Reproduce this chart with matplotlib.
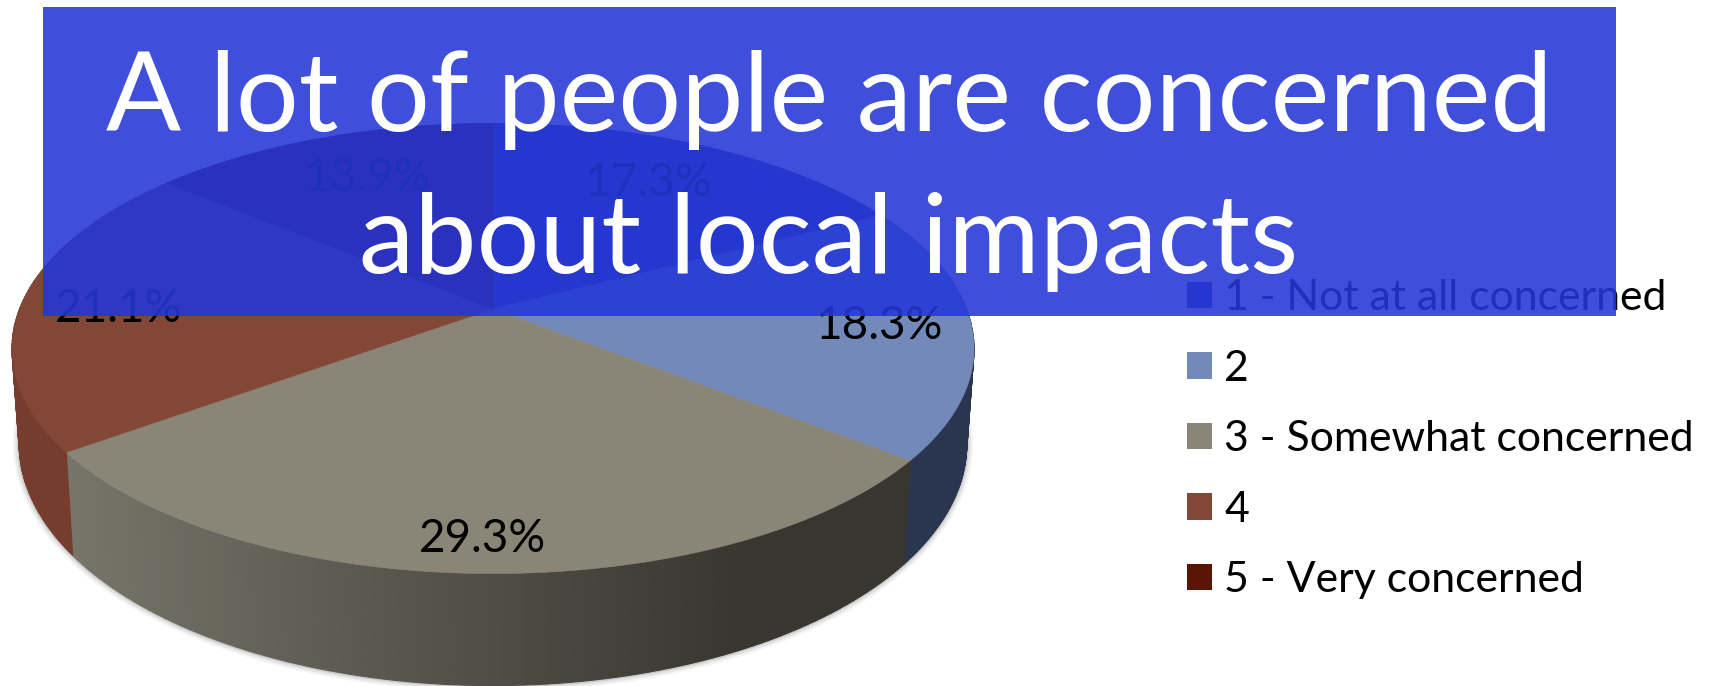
import numpy as np
import matplotlib
matplotlib.use("Agg")
import matplotlib.pyplot as plt
from matplotlib.colors import to_rgb
from matplotlib.patches import Rectangle

# Survey results
categories = ["1 - Not at all concerned", "2", "3 - Somewhat concerned", "4", "5 - Very concerned"]
shares = [17.3, 18.3, 29.3, 21.1, 13.9]
slice_labels = ["17.3%", "18.3%", "29.3%", "21.1%", "13.9%"]
title_lines = ["A lot of people are concerned", "about local impacts"]

# Styling
top_colors = ["#2f3f8c", "#7289b9", "#8b8578", "#834737", "#5a1505"]
wall_left = ["#2c3a6a", "#2a3650", "#77746a", "#763c2e", "#4a1004"]
wall_right = ["#2c3a6a", "#2a3650", "#38362e", "#763c2e", "#4a1004"]
legend_colors = ["#2f3f8c", "#7289b9", "#8b8578", "#834737", "#5a1505"]
FONT = "Lato"

W, H = 1710, 686
fig = plt.figure(figsize=(W / 100, H / 100), dpi=100)
ax = fig.add_axes([0, 0, 1, 1])
ax.set_xlim(0, W)
ax.set_ylim(H, 0)
ax.axis("off")

# Perspective projection of the pie disc onto the page
CX, CY = 493.0, 309.0
A, B, P = 473.5, 218.0, 0.176
DEPTH, TAPER = 92.3, 0.985


def top_rim(theta):
    u, v = np.sin(theta), -np.cos(theta)
    w = 1 - P * v
    return CX + A * u / w, CY + B * v / w


def bottom_rim(theta):
    u, v = np.sin(theta), -np.cos(theta)
    w = 1 - P * v
    return CX + TAPER * A * u / w, CY + B * v / w + DEPTH / w


# Soft shadow hugging the lower outline
full = np.linspace(0, 2 * np.pi, 361)
bx, by = bottom_rim(full)
for lw, alpha in [(9, 0.05), (6, 0.08), (3, 0.14)]:
    ax.plot(bx, by, color="#303030", lw=lw, alpha=alpha, zorder=1, solid_capstyle="round")

edges = np.cumsum([0] + shares) / sum(shares) * 2 * np.pi

# Side wall, drawn as narrow shaded strips
for i in range(len(shares)):
    t = np.linspace(edges[i], edges[i + 1], 90)
    c0, c1 = np.array(to_rgb(wall_left[i])), np.array(to_rgb(wall_right[i]))
    x0, y0 = top_rim(t)
    x1, y1 = bottom_rim(t)
    span = max(x0.max() - x0.min(), 1)
    for j in range(len(t) - 1):
        # the shading reaches its darkest tone before the right-hand end of the slice
        f = np.clip((0.5 * (x0[j] + x0[j + 1]) - x0.min()) / (0.8 * span), 0, 1)
        col = c0 + (c1 - c0) * f
        ax.fill([x0[j], x0[j + 1], x1[j + 1], x1[j]],
                [y0[j], y0[j + 1], y1[j + 1], y1[j]],
                color=col, lw=0.8, zorder=2)

# Top face of each slice
for i in range(len(shares)):
    t = np.linspace(edges[i], edges[i + 1], 120)
    x, y = top_rim(t)
    ax.fill(np.r_[CX, x], np.r_[CY, y], color=top_colors[i], lw=0.4, zorder=3)

# Percentage labels
anchors = [(648, 183), (879, 326), (482, 539), (118, 309), (367, 178)]
for (lx, ly), s in zip(anchors, slice_labels):
    ax.text(lx, ly, s, ha="center", va="center", fontsize=33, family=FONT, color="black", zorder=4)

# Legend
handles = [Rectangle((0, 0), 1, 1, facecolor=c, edgecolor="none") for c in legend_colors]
leg = ax.legend(handles, categories, loc="upper left", bbox_to_anchor=(1187 / W, 1 - 279 / H),
                frameon=False, prop={"family": FONT, "size": 30.8},
                handlelength=0.585, handleheight=0.585, handletextpad=0.28,
                labelspacing=0.76, borderpad=0, borderaxespad=0)
leg.set_zorder(4)

# Title banner laid over the chart
ax.add_patch(Rectangle((42.5, 6.5), 1573.5, 309.5, facecolor="#2437d8", alpha=0.88, edgecolor="none", zorder=5))
for line, baseline in zip(title_lines, (131, 273)):
    ax.text(829, baseline, line, ha="center", va="baseline", fontsize=80, family=FONT,
            color="white", zorder=6)

fig.savefig("out.png", dpi=100)
